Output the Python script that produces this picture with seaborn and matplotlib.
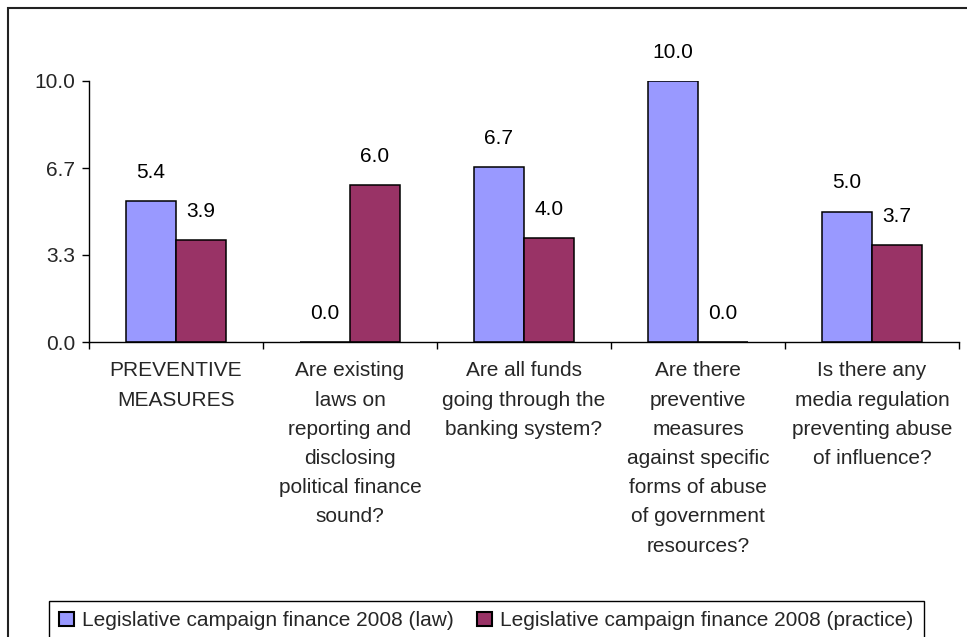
import matplotlib
matplotlib.use("Agg")
import matplotlib.pyplot as plt
from matplotlib.patches import Patch, Rectangle
from matplotlib.ticker import FixedLocator
import pandas as pd
import seaborn as sns

categories = [
    "PREVENTIVE\nMEASURES",
    "Are existing\nlaws on\nreporting and\ndisclosing\npolitical finance\nsound?",
    "Are all funds\ngoing through the\nbanking system?",
    "Are there\npreventive\nmeasures\nagainst specific\nforms of abuse\nof government\nresources?",
    "Is there any\nmedia regulation\npreventing abuse\nof influence?",
]
series_names = [
    "Legislative campaign finance 2008 (law)",
    "Legislative campaign finance 2008 (practice)",
]
law_scores = [5.4, 0.0, 6.7, 10.0, 5.0]
practice_scores = [3.9, 6.0, 4.0, 0.0, 3.7]
y_ticks = [0.0, 10 / 3, 20 / 3, 10.0]
y_tick_labels = ["0.0", "3.3", "6.7", "10.0"]
colors = ["#9999FF", "#993366"]

sns.set_theme(style="white")
plt.rcParams["font.family"] = ["Liberation Sans", "DejaVu Sans"]
FS = 15

df = pd.DataFrame({
    "category": categories * 2,
    "score": law_scores + practice_scores,
    "series": [series_names[0]] * len(categories) + [series_names[1]] * len(categories),
})

W, H = 967, 637
fig = plt.figure(figsize=(W / 100, H / 100), dpi=100)
ax = fig.add_axes([89 / W, 1 - 342 / H, (959 - 89) / W, (342 - 81) / H])

sns.barplot(
    data=df, x="category", y="score", hue="series", order=categories,
    hue_order=series_names, palette=colors, saturation=1, width=0.575,
    edgecolor="black", linewidth=1.1, ax=ax, errorbar=None, legend=False,
)

# value labels above each bar
for container in ax.containers:
    for bar, val in zip(container, container.datavalues):
        ax.annotate(
            f"{val:.1f}",
            xy=(bar.get_x() + bar.get_width() / 2, bar.get_height()),
            xytext=(0, 19), textcoords="offset pixels",
            ha="center", va="bottom", fontsize=FS, color="black",
        )

ax.set_xlim(-0.5, len(categories) - 0.5)
ax.set_ylim(0, 10)
ax.set_yticks(y_ticks)
ax.set_yticklabels(y_tick_labels, fontsize=FS)
ax.set_xticks(range(len(categories)))
ax.set_xticklabels(categories, fontsize=FS, linespacing=1.68)
ax.xaxis.set_minor_locator(FixedLocator([i - 0.5 for i in range(len(categories) + 1)]))
ax.tick_params(axis="x", which="major", length=0, pad=14)
ax.tick_params(axis="x", which="minor", length=5, width=1, color="black", direction="out", bottom=True)
ax.tick_params(axis="y", length=5, width=1, color="black", direction="out", left=True, pad=5)
ax.set_xlabel("")
ax.set_ylabel("")
for side in ("top", "right"):
    ax.spines[side].set_visible(False)
for side in ("left", "bottom"):
    ax.spines[side].set_color("black")
    ax.spines[side].set_linewidth(1)

handles = [Patch(facecolor=c, edgecolor="black", linewidth=1.5) for c in colors]
leg = fig.legend(
    handles, series_names, loc="upper left",
    bbox_to_anchor=(49 / W, 1 - 601 / H), ncol=2, fontsize=FS,
    frameon=True, fancybox=False, framealpha=1, edgecolor="black",
    handlelength=0.7, handleheight=0.7, handletextpad=0.4,
    columnspacing=1.1, borderpad=0.5, borderaxespad=0,
)
leg.get_frame().set_linewidth(1)

# chart area border
fig.add_artist(Rectangle((8 / W, -0.1), 1.2, 1.1 - 8 / H, transform=fig.transFigure,
                         fill=False, edgecolor="#222222", linewidth=1.5))

fig.savefig("out.png", dpi=100)
